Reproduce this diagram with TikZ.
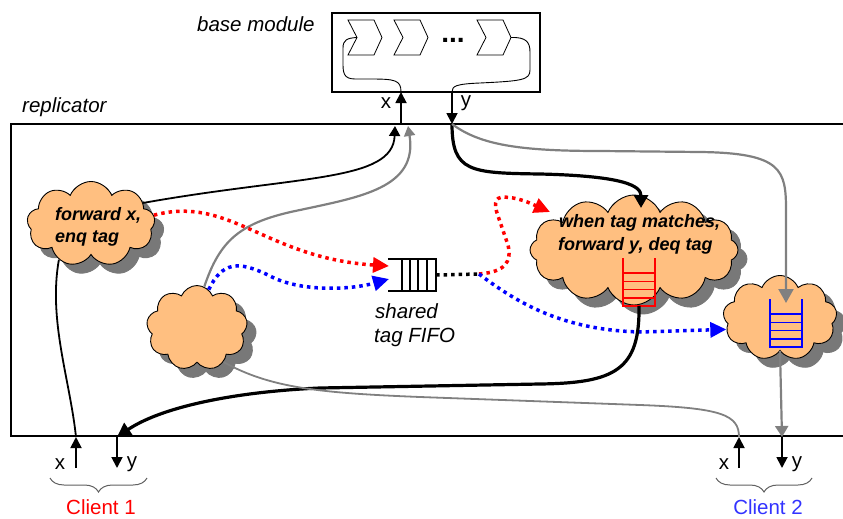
\documentclass[tikz,border=0pt]{standalone}
\usepackage{fontspec}
\setmainfont{Liberation Sans}
\usetikzlibrary{shapes.symbols,arrows.meta,decorations.pathreplacing}

\definecolor{puff}{RGB}{255,191,128}
\definecolor{shade}{RGB}{120,120,120}
\definecolor{wire}{RGB}{128,128,128}
\definecolor{bracegray}{RGB}{96,96,96}
\definecolor{clientblue}{RGB}{51,51,255}

\begin{document}
\begin{tikzpicture}[x=1pt,y=-1pt,
  every node/.style={font=\fontsize{20.5}{24}\selectfont, inner sep=0pt},
  puffshape/.style={cloud, cloud puffs=9, cloud puff arc=135, cloud ignores aspect},
  puffy/.style={puffshape, draw=black, line width=0.9pt, fill=puff},
  puffshadow/.style={puffshape, fill=shade, draw=shade, line width=0.9pt},
  cloudtxt/.style={font=\fontsize{18}{22}\selectfont\bfseries\itshape, anchor=base west},
  label/.style={anchor=base west},
  port/.style={line width=1.8pt, -{Triangle[length=11pt,width=11pt]}},
  thinwire/.style={line width=1.8pt},
  greywire/.style={line width=2.2pt, draw=wire},
  heavywire/.style={line width=3.2pt},
  dotwire/.style={line width=3.5pt, dash pattern=on 3.5pt off 4pt},
  bighead/.style={-{Triangle[length=16pt,width=15pt]}},
  tagbrace/.style={draw=bracegray, line width=1pt, decorate,
    decoration={brace, amplitude=14pt, mirror}},
  pics/tagstack/.style={code={
    \draw[line width=1.5pt] (-16,0) -- (-16,48) -- (16,48) -- (16,0);
    \foreach \r in {15,23.25,31.5,39.75}
      \draw[line width=1.5pt] (-16,\r) -- (16,\r);
  }},
]
\useasboundingbox (0,0) rectangle (843,519);

% ---------------- base module ----------------
\node[draw, line width=1.5pt, fill=white, minimum width=208pt, minimum height=79pt]
  (base) at (436,52.5) {};
\foreach \cx in {348,394,477}
  \draw[line width=0.8pt, fill=white] (\cx,20) -- (\cx+26,20) -- (\cx+34,37.5)
    -- (\cx+26,55) -- (\cx,55) -- (\cx+9,37.5) -- cycle;
\node[font=\fontsize{28}{30}\selectfont\bfseries, anchor=base] (dots) at (453,43) {...};
\node[label] (basetxt) at (197,32) {\itshape base module};

\coordinate (xtop) at (401,92);
\coordinate (xbot) at (401,124);
\coordinate (ytop) at (452,92);
\coordinate (ybot) at (452,124);
\coordinate (notch) at (357,37.5);
\coordinate (tip) at (511,37.5);

% internal pipeline wiring
\draw[line width=0.9pt] (xtop) .. controls (401,80) and (395,79) .. (370,79) -- (355,79)
  .. controls (343,79) and (343,72) .. (343,62) -- (343,48)
  .. controls (343,40) and (347,38) .. (notch);
\draw[line width=0.9pt] (tip) .. controls (526,37) and (530,42) .. (530,52) -- (530,70)
  .. controls (530,80) and (522,81) .. (480,83) .. controls (456,84) and (452,86) .. (ytop);

% module ports
\draw[port] (xbot) -- (xtop);
\draw[port] (ytop) -- (ybot);
\node (xlab) at (386,103) {x};
\node (ylab) at (466,103) {y};

% ---------------- replicator frame ----------------
\draw[line width=1.8pt] (843,124) -- (11,124) -- (11,436) -- (843,436);
\node[label] (reptxt) at (22,112) {\itshape replicator};

% ---------------- clouds (shadow first, then the cloud) ----------------
\node[puffshadow, minimum width=128pt, minimum height=85pt] (fwdsh) at (100,233) {};
\node[puffshadow, minimum width=101pt, minimum height=85pt] (idlesh) at (206,337) {};
\node[puffshadow, cloud puffs=12, minimum width=208pt, minimum height=110pt] (matchsh) at (643,259) {};
\node[puffshadow, minimum width=114pt, minimum height=85pt] (cl2sh) at (789,327) {};

\node[puffy, minimum width=128pt, minimum height=85pt] (fwd) at (91,224) {};
\node[puffy, minimum width=101pt, minimum height=85pt] (idle) at (197,328) {};
\node[puffy, cloud puffs=12, minimum width=208pt, minimum height=110pt] (match) at (634,250) {};
\node[puffy, minimum width=114pt, minimum height=85pt] (cl2) at (780,318) {};

\node[cloudtxt] (fwdA) at (55,220) {forward x,};
\node[cloudtxt] (fwdB) at (55,242) {enq tag};
\node[cloudtxt] (matchA) at (559,227) {when tag matches,};
\node[cloudtxt] (matchB) at (558,250) {forward y, deq tag};

% per-client tag stacks
\pic[red] (redstack) at (639,258) {tagstack};
\pic[blue] (bluestack) at (786,299) {tagstack};
\coordinate (redbottom) at (639,306);

% ---------------- shared tag FIFO ----------------
\node[minimum width=48pt, minimum height=32pt] (fifo) at (412,275) {};
\draw[line width=1.5pt] (fifo.north west) -- (fifo.north east) -- (fifo.south east) -- (fifo.south west);
\foreach \vx in {402,410,418,427}
  \draw[line width=1.5pt] (\vx,259) -- (\vx,291);
\node[label] (fifoA) at (375,318) {\itshape shared};
\node[label] (fifoB) at (374,342) {\itshape tag FIFO};

\coordinate (fifored) at (389,266);
\coordinate (fifoblue) at (389,279);
\coordinate (split) at (479,274);
\coordinate (xl) at (395,126);
\coordinate (xr) at (408,126);
\coordinate (greyin) at (786,303);

% ---------------- client ports ----------------
\coordinate (c1xt) at (76,437);
\coordinate (c1xb) at (76,468);
\coordinate (c1yt) at (117,437);
\coordinate (c1yb) at (117,468);
\coordinate (c2xt) at (739,437);
\coordinate (c2xb) at (739,468);
\coordinate (c2yt) at (782,437);
\coordinate (c2yb) at (782,468);

\draw[port] (c1xb) -- (c1xt);
\draw[port] (c1yt) -- (c1yb);
\draw[port] (c2xb) -- (c2xt);
\draw[port] (c2yt) -- (c2yb);
\node (c1xlab) at (60,464) {x};
\node (c1ylab) at (132,464) {y};
\node (c2xlab) at (724,464) {x};
\node (c2ylab) at (797,464) {y};

\draw[tagbrace] (50,478) -- (147,478);
\draw[tagbrace] (716,478) -- (812,478);
\node[text=red] (client1) at (101,507) {Client 1};
\node[text=clientblue] (client2) at (768,507) {Client 2};

% ---------------- connectors ----------------
% requests x into the module
\draw[thinwire, -{Triangle[length=10pt,width=11pt]}]
  (fwd.22) .. controls (300,175) and (393,182) .. (xl);
\draw[greywire, -{Triangle[length=10pt,width=11pt]}]
  (idle.80) .. controls (220,240) and (240,222) .. (300,210)
  .. controls (360,197) and (418,188) .. (xr);

% responses y out of the module
\draw[heavywire, -{Triangle[length=13pt,width=14pt]}]
  (ybot) .. controls (452,172) and (470,173) .. (540,174)
  .. controls (625,176) and (641,186) .. ([shift={(7,-42)}]match.center);
\draw[greywire, -{Triangle[length=14pt,width=15pt]}]
  (ybot) .. controls (480,145) and (520,151) .. (600,151) -- (700,152)
  .. controls (782,153) and (786,170) .. (786,210) -- (greyin);

% tag traffic through the shared FIFO
\draw[dotwire, red, bighead] (fwd.8) .. controls (230,195) and (265,258) .. (fifored);
\draw[dotwire, blue, bighead] (idle.73) .. controls (222,262) and (238,260) .. (270,276)
  .. controls (300,292) and (350,290) .. (fifoblue);
\draw[dotwire, black] (fifo.east) -- (split);
\draw[dotwire, red, bighead] (split) .. controls (505,272) and (512,262) .. (508,245)
  -- (497,213) .. controls (492,196) and (500,196) .. (513,198)
  .. controls (524,200) and (532,204) .. ([shift={(-84,-38)}]match.center);
\draw[dotwire, blue, bighead] (split) .. controls (520,305) and (565,330) .. (640,332)
  -- (cl2.192);

% delivery to the clients
\draw[heavywire, -{Triangle[length=14pt,width=15pt]}]
  (redbottom) .. controls (640,370) and (615,383) .. (540,384) -- (320,388)
  .. controls (230,392) and (160,408) .. (c1yt);
\draw[thinwire] (fwd.228) .. controls (48,320) and (70,380) .. (c1xt);
\draw[greywire, line width=1.8pt] (idle.308) .. controls (270,388) and (320,393) .. (420,397)
  -- (640,405) .. controls (722,408) and (739,415) .. (c2xt);
\draw[greywire, -{Triangle[length=11pt,width=13pt]}] (cl2.270) -- (c2yt);
\end{tikzpicture}
\end{document}
